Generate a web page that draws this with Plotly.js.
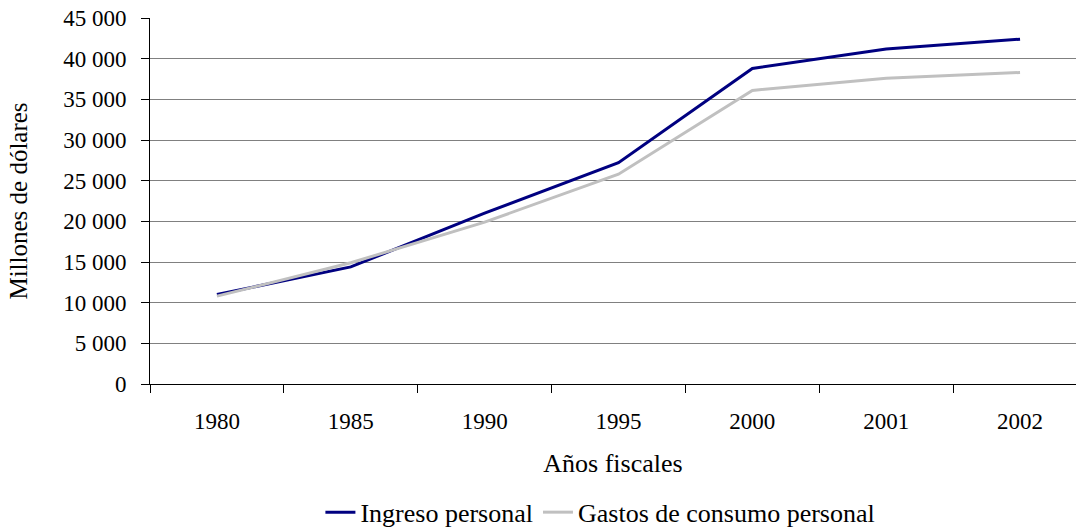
<!DOCTYPE html>
<html>
<head>
<meta charset="utf-8">
<script src="https://cdn.plot.ly/plotly-3.0.1.min.js"></script>
<style>html,body{margin:0;padding:0;background:#fff;}#chart{width:1076px;height:527px;}</style>
</head>
<body>
<div id="chart"></div>
<script>
const years = ["1980", "1985", "1990", "1995", "2000", "2001", "2002"];
const ingresoPersonal = [11000, 14400, 21000, 27200, 38800, 41200, 42400];
const gastosConsumo = [10800, 14900, 19900, 25800, 36100, 37600, 38300];
const seriesNames = ["Ingreso personal", "Gastos de consumo personal"];

const fam = "Liberation Serif, Times New Roman, serif";

const traces = [
  {x: years, y: ingresoPersonal, name: seriesNames[0], type: "scatter", mode: "lines",
   line: {color: "#000080", width: 3}},
  {x: years, y: gastosConsumo, name: seriesNames[1], type: "scatter", mode: "lines",
   line: {color: "#C0C0C0", width: 3}}
];

const layout = {
  width: 1076, height: 527,
  margin: {l: 150, r: 0, t: 18, b: 143},
  paper_bgcolor: "#fff", plot_bgcolor: "#fff",
  font: {family: fam, color: "#000", size: 23},
  separators: ". ",
  showlegend: true,
  legend: {orientation: "h", xref: "container", x: 0.558, xanchor: "center",
           yref: "container", y: 0.028, yanchor: "middle",
           font: {family: fam, size: 26, color: "#000"}, itemwidth: 30, tracegroupgap: 0},
  xaxis: {
    type: "category", range: [-0.5, 6.418], tickson: "boundaries",
    ticks: "outside", ticklen: 8, tickcolor: "#000", tickwidth: 1,
    showline: true, linecolor: "#000", linewidth: 1,
    showgrid: false, zeroline: false,
    ticklabelstandoff: 16,
    tickfont: {family: fam, size: 23, color: "#000"},
    title: {text: "Años fiscales", font: {family: fam, size: 26, color: "#000"}, standoff: 21}
  },
  yaxis: {
    range: [0, 45000], dtick: 5000, tick0: 0, tickformat: ",d",
    ticks: "outside", ticklen: 8, tickcolor: "#000", tickwidth: 1,
    showline: true, linecolor: "#000", linewidth: 1,
    showgrid: true, gridcolor: "#808080", gridwidth: 1, zeroline: false,
    ticklabelstandoff: 10,
    tickfont: {family: fam, size: 23, color: "#000"},
    title: {text: "Millones de dólares", font: {family: fam, size: 25, color: "#000"}, standoff: 28}
  }
};

Plotly.newPlot("chart", traces, layout, {displayModeBar: false, staticPlot: true});
</script>
</body>
</html>
